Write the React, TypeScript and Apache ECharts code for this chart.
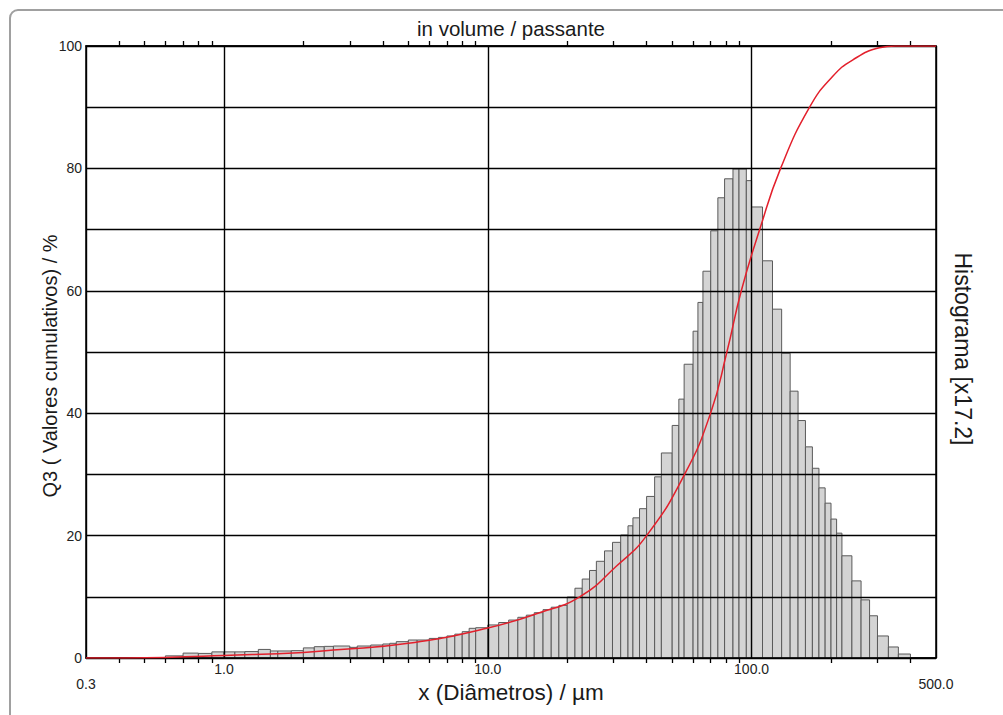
import React, { useEffect, useRef } from "react";
import * as echarts from "echarts";

// Histogram class edges (µm)
const binEdges = [
  0.6, 0.7, 0.8, 0.9, 1.0, 1.1, 1.2, 1.35, 1.5, 1.6, 1.8, 2.0, 2.2, 2.4, 2.6,
  3.0, 3.2, 3.6, 4.0, 4.25, 4.5, 5.0, 5.4, 6.0, 6.5, 7.0, 7.5, 8.0, 8.5, 9.0, 10,
  11, 12, 13, 14, 15, 16.2, 17.4, 18.6, 20,
  21.4, 22.8, 24.3, 25.8, 27.7, 29.7, 31.9, 34, 35.5, 37.6, 40, 42.9, 45.5, 50,
  53, 55.5, 60, 62.6, 65.4, 70, 74.5, 79, 85, 89.6, 95.5, 100,
  110, 120, 130, 140, 150, 160, 170, 180, 190, 200, 210, 220, 240, 260, 280, 300, 330, 360, 400,
];

// Histogram heights (x17.2, on the 0-100 scale)
const histValues = [
  0.35, 0.8, 0.75, 1.0, 1.0, 1.0, 1.05, 1.4, 1.15, 1.15, 1.2, 1.65, 1.85, 1.9,
  1.96, 1.74, 1.96, 2.12, 2.29, 2.4, 2.67, 2.94, 2.94, 3.2, 3.37, 3.6, 3.9, 4.3, 4.85, 4.95,
  5.4, 5.8, 6.2, 6.65, 7.0, 7.4, 7.9, 8.3, 8.6,
  9.97, 11.4, 12.9, 14.3, 15.8, 17.5, 18.9, 20.1, 21.6, 22.9, 24.4, 26.4, 29.6, 33.5,
  38.0, 42.3, 48.0, 53.4, 58.1, 63.2, 69.8, 75.2, 78.3, 79.9, 79.9, 78.0,
  73.7, 64.9, 57.0, 49.8, 43.6, 38.8, 34.5, 31.0, 27.8, 25.3, 22.7, 20.4, 16.7, 12.6, 9.5, 6.9, 3.6, 1.8, 0.65,
];

// Cumulative curve Q3 (%)
const curveSizes = [0.3, 0.6, 1.0, 2.0, 2.6, 5.0, 10, 15.7, 22.3, 30.7, 40, 55.7, 69.9, 80.6, 91.4, 107.3, 128.8, 165.9, 202.7, 241.3, 305, 350, 500];
const curveQ3 = [0, 0.1, 0.4, 0.9, 1.3, 2.4, 4.9, 7.4, 10, 15, 20, 30, 40, 50, 60, 70, 80, 90, 95, 97.7, 99.7, 100, 100];

// Axis labels
const xLabelValues = [0.3, 1, 10, 100, 500];
const xLabelTexts = ["0.3", "1.0", "10.0", "100.0", "500.0"];
const xLowLabels = [0.3, 500];
const xMinorTicks = [0.4, 0.5, 0.6, 0.7, 0.8, 0.9, 2, 3, 4, 5, 6, 7, 8, 9, 20, 30, 40, 50, 60, 70, 80, 90, 200, 300, 400];
const yLabelStep = 20;

const FONT = "'Liberation Sans', Arial, sans-serif";

export default function App() {
  const ref = useRef<HTMLDivElement>(null);

  useEffect(() => {
    if (!ref.current) return;
    const chart = echarts.init(ref.current, null, { renderer: "svg" });

    const barData = histValues.map((v, i) => [binEdges[i], binEdges[i + 1], v]);
    const lineData = curveSizes.map((s, i) => [s, curveQ3[i]]);

    const near = (a: number, b: number) => Math.abs(a - b) < 1e-6 * Math.max(1, b);

    const option: any = {
      animation: false,
      backgroundColor: "#ffffff",
      textStyle: { fontFamily: FONT },
      grid: {
        left: 86,
        top: 46,
        width: 850,
        height: 612,
        show: true,
        borderColor: "#000",
        borderWidth: 1.5,
        backgroundColor: "transparent",
        containLabel: false,
        outerBoundsMode: "none",
      },
      xAxis: [
        {
          type: "log",
          logBase: 10,
          min: 0.3,
          max: 500,
          position: "bottom",
          z: 3,
          axisLine: { show: true, lineStyle: { color: "#000", width: 1.5 } },
          axisTick: { show: false },
          splitLine: { show: true, lineStyle: { color: "#000", width: 1.4 } },
          axisLabel: {
            show: true,
            showMinLabel: true,
            showMaxLabel: true,
            margin: 3,
            fontSize: 14,
            lineHeight: 15,
            color: "#222",
            fontFamily: FONT,
            formatter: (v: number) => {
              for (let i = 0; i < xLabelValues.length; i++) {
                if (near(v, xLabelValues[i])) {
                  const low = xLowLabels.some((l) => near(l, xLabelValues[i]));
                  return (low ? "\n" : "") + xLabelTexts[i];
                }
              }
              return "";
            },
          },
        },
        {
          type: "log",
          logBase: 10,
          min: 0.3,
          max: 500,
          position: "bottom",
          axisLine: { show: false },
          axisLabel: { show: false },
          splitLine: { show: false },
          axisTick: { show: true, customValues: xMinorTicks, length: 5, inside: false, lineStyle: { color: "#000", width: 1.3 } },
        },
        {
          type: "log",
          logBase: 10,
          min: 0.3,
          max: 500,
          position: "top",
          axisLine: { show: true, lineStyle: { color: "#000", width: 1.5 } },
          axisLabel: { show: false },
          splitLine: { show: false },
          axisTick: { show: true, customValues: xMinorTicks, length: 5, inside: false, lineStyle: { color: "#000", width: 1.3 } },
        },
      ],
      yAxis: {
        type: "value",
        min: 0,
        max: 100,
        interval: 10,
        z: 3,
        axisLine: { show: false },
        axisTick: { show: false },
        splitLine: { show: true, lineStyle: { color: "#000", width: 1.4 } },
        axisLabel: {
          margin: 4,
          fontSize: 14,
          color: "#222",
          fontFamily: FONT,
          padding: [0, 0, 6, 0],
          formatter: (v: number) => (Math.round(v) % yLabelStep === 0 ? String(Math.round(v)) : ""),
        },
      },
      series: [
        {
          type: "custom",
          xAxisIndex: 0,
          yAxisIndex: 0,
          z: 2,
          encode: { x: [0, 1], y: 2 },
          data: barData,
          renderItem: (params: any, api: any) => {
            const p0 = api.coord([api.value(0), api.value(2)]);
            const p1 = api.coord([api.value(1), 0]);
            return {
              type: "rect",
              shape: { x: p0[0], y: p0[1], width: p1[0] - p0[0], height: p1[1] - p0[1] },
              style: { fill: "#d4d4d4", stroke: "#5a5a5a", lineWidth: 1 },
            };
          },
        },
        {
          type: "line",
          xAxisIndex: 0,
          yAxisIndex: 0,
          z: 5,
          data: lineData,
          smooth: 0.5,
          symbol: "none",
          lineStyle: { color: "#e3202c", width: 1.5 },
        },
      ],
      graphic: [
        {
          type: "rect",
          silent: true,
          shape: { x: 10, y: 10, width: 1010, height: 720, r: 8 },
          style: { fill: "none", stroke: "#a0a0a0", lineWidth: 2 },
        },
        {
          type: "text",
          x: 511,
          y: 28,
          style: { text: "in volume / passante", fontSize: 20.5, fontFamily: FONT, fill: "#1a1a1a", align: "center", verticalAlign: "middle" },
        },
        {
          type: "text",
          x: 511,
          y: 692,
          style: { text: "x (Diâmetros) / µm", fontSize: 22.5, fontFamily: FONT, fill: "#1a1a1a", align: "center", verticalAlign: "middle" },
        },
        {
          type: "text",
          x: 50,
          y: 366,
          rotation: Math.PI / 2,
          style: { text: "Q3 ( Valores cumulativos) / %", fontSize: 20, fontFamily: FONT, fill: "#1a1a1a", align: "center", verticalAlign: "middle" },
        },
        {
          type: "text",
          x: 963,
          y: 349,
          rotation: -Math.PI / 2,
          style: { text: "Histograma [x17.2]", fontSize: 23, fontFamily: FONT, fill: "#1a1a1a", align: "center", verticalAlign: "middle" },
        },
      ],
    };

    chart.setOption(option);
    return () => chart.dispose();
  }, []);

  return (
    <div
      ref={ref}
      style={{ position: "fixed", left: 0, top: 0, width: 1003, height: 715, background: "#fff" }}
    />
  );
}
